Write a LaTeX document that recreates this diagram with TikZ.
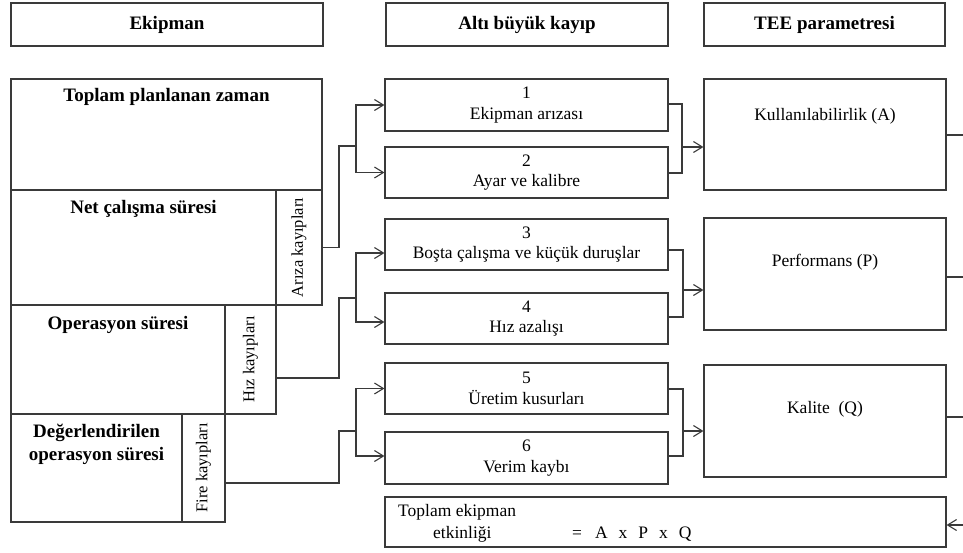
\documentclass[tikz,border=0pt]{standalone}
\usepackage{fontspec}
\setmainfont{Liberation Serif}
\usetikzlibrary{arrows.meta}
\definecolor{lc}{HTML}{3A3A3A}
\begin{document}
\begin{tikzpicture}[x=1pt,y=-1pt,
  box/.style={draw=lc,line width=1.1pt,inner sep=0pt,minimum width=#1},
  hd/.style={font=\fontsize{19}{22}\selectfont\bfseries,inner sep=0pt,align=center},
  bt/.style={font=\fontsize{19}{22}\selectfont\bfseries,inner sep=0pt,align=center},
  rt/.style={font=\fontsize{17.5}{20.5}\selectfont,inner sep=0pt,align=center},
  vt/.style={font=\fontsize{16.5}{18}\selectfont,inner sep=0pt,rotate=90},
  ln/.style={draw=lc,line width=1.1pt},
  arr/.style={ln,-{Straight Barb[length=9pt,width=11pt,line width=1.1pt]}}]
\useasboundingbox (0,0) rectangle (963,552);

% headers
\node[box=312,minimum height=43,hd] (h1) at (167,24.5) {Ekipman};
\node[box=282,minimum height=43,hd] (h2) at (527,24.5) {Altı büyük kayıp};
\node[box=241,minimum height=43,hd] (h3) at (824.5,24.5) {TEE parametresi};

% left stack
\node[box=311,minimum height=111] (tp) at (166.5,134.5) {};
\node[bt] (tpt) at (166.5,97) {Toplam planlanan zaman};
\node[box=265,minimum height=115] (net) at (143.5,247.5) {};
\node[bt] (nett) at (143.5,209) {Net çalışma süresi};
\node[box=46,minimum height=115] (ariza) at (299,247.5) {};
\node[vt] (arizat) at (ariza.center) {Arıza kayıpları};
\node[box=214,minimum height=109] (ops) at (118,359.5) {};
\node[bt] (opst) at (118,325) {Operasyon süresi};
\node[box=51,minimum height=109] (hiz) at (250.5,359.5) {};
\node[vt] (hizt) at (hiz.center) {Hız kayıpları};
\node[box=171,minimum height=108] (deg) at (96.5,468) {};
\node[bt] (degt) at (96.5,444) {Değerlendirilen\\[1pt]operasyon süresi};
\node[box=43,minimum height=108] (fire) at (203.5,468) {};
\node[vt] (firet) at (fire.center) {Fire kayıpları};

% middle boxes
\node[box=283,minimum height=52,rt] (m1) at (526.5,105) {1\\Ekipman arızası};
\node[box=283,minimum height=51,rt] (m2) at (526.5,172.5) {2\\Ayar ve kalibre};
\node[box=283,minimum height=51,rt] (m3) at (526.5,244.5) {3\\Boşta çalışma ve küçük duruşlar};
\node[box=283,minimum height=51,rt] (m4) at (526.5,318.5) {4\\Hız azalışı};
\node[box=283,minimum height=51,rt] (m5) at (526.5,388.5) {5\\Üretim kusurları};
\node[box=283,minimum height=52,rt] (m6) at (526.5,458) {6\\Verim kaybı};

% TEE boxes
\node[box=242,minimum height=111] (tA) at (825,134.5) {};
\node[rt] (tAt) at (825,116) {Kullanılabilirlik (A)};
\node[box=242,minimum height=112] (tP) at (825,274) {};
\node[rt] (tPt) at (825,262) {Performans (P)};
\node[box=242,minimum height=112] (tQ) at (825,421) {};
\node[rt] (tQt) at (825,409) {Kalite\ \ (Q)};

% total box
\node[box=561,minimum height=50] (tot) at (665.5,522) {};
\node[rt,anchor=west] (tot1) at (398,512) {Toplam ekipman};
\node[rt,anchor=west] (tot2) at (433,534) {etkinliği};
\node[rt,anchor=west] (tot3) at (572,534) {=\hspace{13pt}A\hspace{11pt}x\hspace{11pt}P\hspace{11pt}x\hspace{11pt}Q};

% left connectors
\coordinate (s1) at (356,146);
\coordinate (s2) at (356,298);
\coordinate (s3) at (356,431);
\draw[ln] (ariza.east) -- (339,247.5) |- (s1);
\draw[arr] (s1) |- (m1.west);
\draw[arr] (s1) |- (m2.west);
\draw[ln] ([yshift=-18.5pt]hiz.east) -- (339,378) |- (s2);
\draw[arr] (s2) |- ([yshift=-8.5pt]m3.west);
\draw[arr] (s2) |- ([yshift=-3.5pt]m4.west);
\draw[ln] ([yshift=-15pt]fire.east) -- (339,483) |- (s3);
\draw[arr] (s3) |- (m5.west);
\draw[arr] (s3) |- ([yshift=2pt]m6.west);

% right joins
\coordinate (j1) at (682,147);
\coordinate (j2) at (683,290);
\coordinate (j3) at (683,431);
\draw[ln] ([yshift=1pt]m1.east) -| (682,173) -- ([yshift=-0.5pt]m2.east);
\draw[arr] (j1) -- (j1 -| tA.west);
\draw[ln] ([yshift=-5.5pt]m3.east) -| (683,317) -- ([yshift=1.5pt]m4.east);
\draw[arr] (j2) -- (j2 -| tP.west);
\draw[ln] ([yshift=-0.5pt]m5.east) -| (683,456) -- ([yshift=2pt]m6.east);
\draw[arr] (j3) -- (j3 -| tQ.west);

% outgoing lines to the right edge
\coordinate (eA) at (963,135);
\coordinate (eP) at (963,277);
\coordinate (eQ) at (963,417);
\coordinate (eT) at (963,525);
\draw[ln] (eA -| tA.east) -- (eA);
\draw[ln] (eP -| tP.east) -- (eP);
\draw[ln] (eQ -| tQ.east) -- (eQ);
\draw[arr] (eT) -- (eT -| tot.east);
\end{tikzpicture}
\end{document}
